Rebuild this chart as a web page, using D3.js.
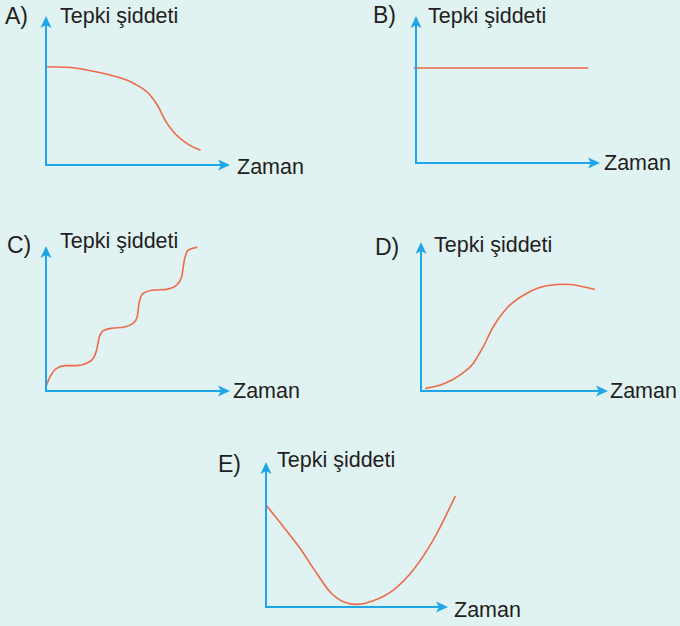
<!DOCTYPE html>
<html>
<head>
<meta charset="utf-8">
<script src="https://cdn.jsdelivr.net/npm/d3@7"></script>
<style>
  html, body { margin: 0; padding: 0; background: #e1f2f2; }
  svg { display: block; }
  text { font-family: "Liberation Sans", Arial, sans-serif; fill: #231f20; }
</style>
</head>
<body>
<svg id="chart" width="680" height="626"></svg>
<script>
// ---- data (time, response intensity) in arbitrary units 0..10 ----
const panelNames = ["A)", "B)", "C)", "D)", "E)"];
const yLabel = "Tepki şiddeti";
const xLabel = "Zaman";

const seriesA = [[0,7.02],[1.22,6.98],[2.39,6.79],[3.76,6.43],[5.14,5.84],[6.12,5.0],[6.61,4.16],[7.0,3.21],[7.49,2.38],[8.28,1.55],[9.06,1.07]];
const seriesB = [[-0.1,6.79],[10.1,6.79]];
const seriesC = [[0,0.31],[0.24,1.02],[0.63,1.62],[1.12,1.81],[1.81,1.81],[2.39,1.98],[2.78,2.34],[2.98,2.93],[3.14,3.88],[3.37,4.31],[3.86,4.48],[4.55,4.55],[5.14,4.84],[5.37,5.31],[5.47,6.26],[5.72,6.98],[6.31,7.21],[7.1,7.26],[7.69,7.57],[7.98,8.16],[8.14,9.36],[8.37,10.07],[8.86,10.26]];
const seriesD = [[0.28,0.19],[1.31,0.5],[2.29,1.14],[3.08,1.98],[3.66,3.16],[4.25,4.59],[5.04,5.91],[6.22,6.98],[7.39,7.52],[8.57,7.62],[9.55,7.45],[10.19,7.26]];
const seriesE = [[0,7.29],[1.02,5.74],[2.0,4.19],[2.98,2.41],[3.76,1.09],[4.55,0.38],[5.34,0.19],[6.31,0.45],[7.49,1.21],[8.66,2.64],[9.84,4.79],[11.12,7.88]];
const allSeries = [seriesA, seriesB, seriesC, seriesD, seriesE];

// ---- layout (panel origins and label offsets) ----
const layout = [
  { ox: 46,  oy: 165, xLen: 184, yLen: 149, letter: [5, 24],   ylab: [60, 23],   xlab: [237, 174] },
  { ox: 416, oy: 163, xLen: 184, yLen: 147, letter: [373, 23], ylab: [428, 23],  xlab: [604, 170] },
  { ox: 46,  oy: 391, xLen: 184, yLen: 145, letter: [7, 253],  ylab: [60, 248],  xlab: [233, 398] },
  { ox: 421, oy: 391, xLen: 187, yLen: 149, letter: [375, 255],ylab: [434, 252], xlab: [610, 398] },
  { ox: 266, oy: 607, xLen: 182, yLen: 145, letter: [218, 472],ylab: [277, 467], xlab: [454, 617] }
];

const axisColor = "#1fa6e8";
const curveColor = "#ee6a48";
const svg = d3.select("#chart");

function arrowHead(g, tipX, tipY, dir) {
  const L = 12, W = 5.5, N = 3;
  let pts;
  if (dir === "right") {
    pts = [[tipX, tipY], [tipX - L, tipY - W], [tipX - L + N, tipY], [tipX - L, tipY + W]];
  } else {
    pts = [[tipX, tipY], [tipX - W, tipY + L], [tipX, tipY + L - N], [tipX + W, tipY + L]];
  }
  g.append("path")
    .attr("d", "M" + pts.map(p => p.join(",")).join("L") + "Z")
    .attr("fill", axisColor);
}

layout.forEach((p, i) => {
  const g = svg.append("g");
  const x = d3.scaleLinear().domain([0, 10]).range([p.ox, p.ox + 170]);
  const y = d3.scaleLinear().domain([0, 10]).range([p.oy, p.oy - 140]);

  const line = d3.line().x(d => x(d[0])).y(d => y(d[1]))
    .curve(i === 1 ? d3.curveLinear : d3.curveMonotoneX);
  g.append("path")
    .datum(allSeries[i])
    .attr("d", line)
    .attr("fill", "none")
    .attr("stroke", curveColor)
    .attr("stroke-width", 1.6)
    .attr("stroke-linecap", "round");

  g.append("line")
    .attr("x1", p.ox).attr("y1", p.oy)
    .attr("x2", p.ox + p.xLen - 6).attr("y2", p.oy)
    .attr("stroke", axisColor).attr("stroke-width", 2);
  g.append("line")
    .attr("x1", p.ox).attr("y1", p.oy + 1)
    .attr("x2", p.ox).attr("y2", p.oy - p.yLen + 6)
    .attr("stroke", axisColor).attr("stroke-width", 2);
  arrowHead(g, p.ox + p.xLen, p.oy, "right");
  arrowHead(g, p.ox, p.oy - p.yLen, "up");

  g.append("text").attr("x", p.letter[0]).attr("y", p.letter[1])
    .attr("font-size", 23).text(panelNames[i]);
  g.append("text").attr("x", p.ylab[0]).attr("y", p.ylab[1])
    .attr("font-size", 21.5).text(yLabel);
  g.append("text").attr("x", p.xlab[0]).attr("y", p.xlab[1])
    .attr("font-size", 21.5).text(xLabel);
});
</script>
</body>
</html>
